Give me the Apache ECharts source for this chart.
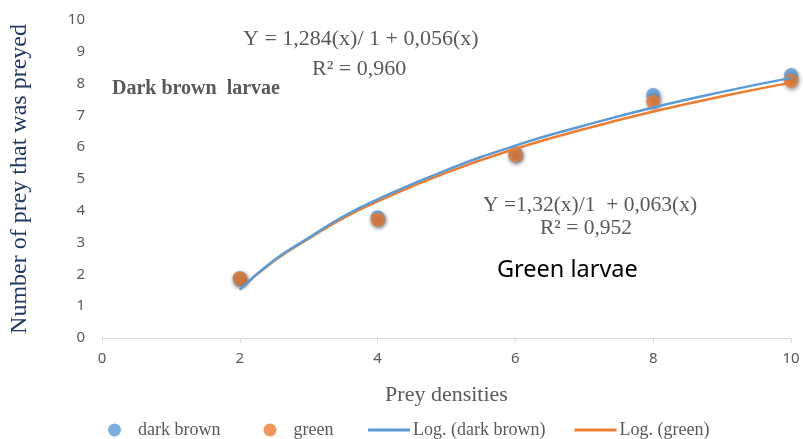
<!DOCTYPE html>
<html>
<head>
<meta charset="utf-8">
<script src="https://cdn.jsdelivr.net/npm/echarts@6/dist/echarts.min.js"></script>
<style>html,body{margin:0;padding:0;background:#fff}#c{width:803px;height:439px}</style>
</head>
<body>
<div id="c"></div>
<script>
// Observed data
var densities = [2, 4, 6, 8, 10];
var darkBrown = [1.88, 3.8, 5.82, 7.64, 8.27];
var green = [1.88, 3.73, 5.75, 7.43, 8.09];
// Trendline curves
var trendX = [2, 2.5, 3, 3.5, 4, 5, 6, 7, 8, 9, 10];
var trendDarkBrown = [1.52, 2.45, 3.15, 3.82, 4.36, 5.28, 6.05, 6.68, 7.25, 7.74, 8.18];
var trendGreen = [1.52, 2.43, 3.12, 3.77, 4.30, 5.20, 5.95, 6.57, 7.12, 7.60, 8.03];
var xTicks = [0, 2, 4, 6, 8, 10];
var yTicks = [0, 1, 2, 3, 4, 5, 6, 7, 8, 9, 10];

function pairs(xs, ys) { return xs.map(function (x, i) { return [x, ys[i]]; }); }

var BLUE = '#5B9BD5', ORANGE = '#ED7D31';
var serif = '"Liberation Serif", "Times New Roman", serif';
var sans = '"Noto Sans", "Open Sans", sans-serif';

var chart = echarts.init(document.getElementById('c'));
chart.setOption({
  animation: false,
  backgroundColor: '#fff',
  grid: { left: 97, right: 12, top: 20, bottom: 101, containLabel: false },
  xAxis: {
    type: 'value', min: xTicks[0], max: xTicks[xTicks.length - 1], interval: 2,
    name: 'Prey densities', nameLocation: 'middle', nameGap: 46,
    nameTextStyle: { fontFamily: serif, fontSize: 22, color: '#595959' },
    axisLine: { show: true, lineStyle: { color: '#D9D9D9', width: 1 } },
    axisTick: { show: true, length: 5, lineStyle: { color: '#D9D9D9' } },
    splitLine: { show: false },
    axisLabel: { fontFamily: sans, fontSize: 15, color: '#595959', margin: 13 }
  },
  yAxis: {
    type: 'value', min: yTicks[0], max: yTicks[yTicks.length - 1], interval: 1,
    name: 'Number of prey that was preyed', nameLocation: 'middle', nameGap: 70,
    nameTextStyle: { fontFamily: serif, fontSize: 24, color: '#1F3864' },
    axisLine: { show: false }, axisTick: { show: false }, splitLine: { show: false },
    axisLabel: { fontFamily: sans, fontSize: 15, color: '#595959', margin: 17 }
  },
  legend: [{
    data: ['dark brown', 'green'],
    left: 103, top: 416, itemWidth: 13, itemHeight: 13, itemGap: 43,
    icon: 'circle',
    textStyle: { fontFamily: serif, fontSize: 18, color: '#595959', padding: [0, 0, 0, 12] }
  }, {
    data: ['Log. (dark brown)', 'Log. (green)'],
    left: 363, top: 416, itemWidth: 42, itemHeight: 3, itemGap: 29,
    icon: 'rect',
    textStyle: { fontFamily: serif, fontSize: 18, color: '#595959', padding: [0, 0, 0, -2] }
  }],
  series: [
    { name: 'dark brown', type: 'scatter', data: pairs(densities, darkBrown), symbolSize: 14, z: 2,
      itemStyle: { color: BLUE, shadowBlur: 4, shadowColor: 'rgba(0,0,0,0.55)', shadowOffsetX: 1, shadowOffsetY: 2 } },
    { name: 'green', type: 'scatter', data: pairs(densities, green), symbolSize: 14, z: 3,
      itemStyle: { color: ORANGE, shadowBlur: 4, shadowColor: 'rgba(0,0,0,0.55)', shadowOffsetX: 1, shadowOffsetY: 2 } },
    { name: 'Log. (green)', type: 'line', data: pairs(trendX, trendGreen), smooth: 0.5, symbol: 'none', z: 4,
      lineStyle: { color: ORANGE, width: 2.5 }, itemStyle: { color: ORANGE } },
    { name: 'Log. (dark brown)', type: 'line', data: pairs(trendX, trendDarkBrown), smooth: 0.5, symbol: 'none', z: 5,
      lineStyle: { color: BLUE, width: 2.5 }, itemStyle: { color: BLUE } }
  ],
  graphic: [
    { type: 'text', left: 243, top: 28, style: { text: 'Y = 1,284(x)/ 1 + 0,056(x)', font: '22px ' + serif, fill: '#595959' } },
    { type: 'text', left: 312, top: 58, style: { text: 'R² = 0,960', font: '22px ' + serif, fill: '#595959' } },
    { type: 'text', left: 112, top: 79, style: { text: 'Dark brown  larvae', font: 'bold 20px ' + serif, fill: '#595959' } },
    { type: 'text', left: 483, top: 194, style: { text: 'Y =1,32(x)/1  + 0,063(x)', font: '21.5px ' + serif, fill: '#595959' } },
    { type: 'text', left: 540, top: 217, style: { text: 'R² = 0,952', font: '21.5px ' + serif, fill: '#595959' } },
    { type: 'text', left: 497, top: 258, style: { text: 'Green larvae', font: '23.5px ' + sans, fill: '#000' } }
  ]
});
</script>
</body>
</html>
